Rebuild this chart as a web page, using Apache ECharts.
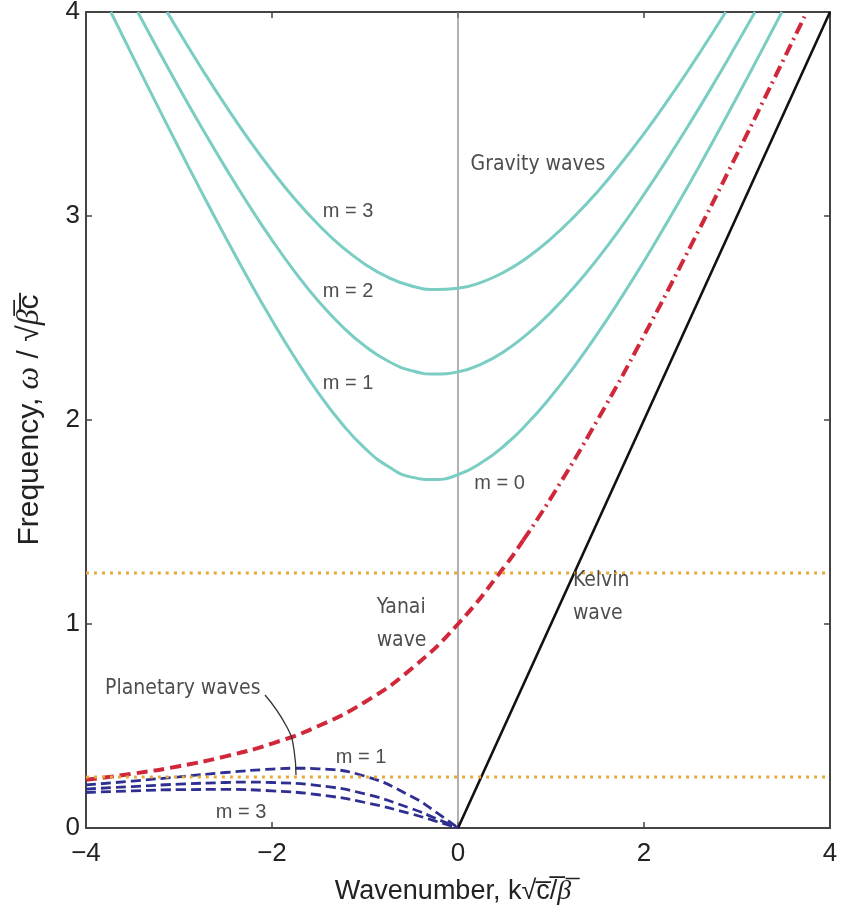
<!DOCTYPE html>
<html>
<head>
    <meta charset="utf-8">
    <title>Equatorial waves</title>
    <script src="https://cdn.jsdelivr.net/npm/echarts@6/dist/echarts.min.js"></script>
</head>
<body style="margin:0;background:#fff">
<div id="main" style="width: 845px;height:907px;"></div>
<script type="text/javascript">
    // wavenumber / frequency pairs
    var gravityM1 = [[-3.733, 4], [-3.5, 3.785], [-3.25, 3.557], [-3, 3.332], [-2.75, 3.111], [-2.5, 2.896],
        [-2.25, 2.688], [-2, 2.489], [-1.75, 2.303], [-1.5, 2.132], [-1.25, 1.983], [-1, 1.861], [-0.75, 1.772],
        [-0.5, 1.720], [-0.25, 1.708], [0, 1.732], [0.25, 1.790], [0.5, 1.875], [0.75, 1.985], [1, 2.115],
        [1.25, 2.262], [1.5, 2.423], [1.75, 2.596], [2, 2.778], [2.25, 2.970], [2.5, 3.168], [2.75, 3.373],
        [3, 3.583], [3.25, 3.797], [3.483, 4]];
    var gravityM2 = [[-3.444, 4], [-3.25, 3.836], [-3, 3.629], [-2.75, 3.429], [-2.5, 3.237], [-2.25, 3.054],
        [-2, 2.882], [-1.75, 2.724], [-1.5, 2.582], [-1.25, 2.461], [-1, 2.362], [-0.75, 2.288], [-0.5, 2.242],
        [-0.25, 2.225], [0, 2.236], [0.25, 2.274], [0.5, 2.337], [0.75, 2.423], [1, 2.529], [1.25, 2.652],
        [1.5, 2.790], [1.75, 2.942], [2, 3.106], [2.25, 3.279], [2.5, 3.460], [2.75, 3.649], [3, 3.845], [3.194, 4]];
    var gravityM3 = [[-3.128, 4], [-3, 3.903], [-2.75, 3.718], [-2.5, 3.542], [-2.25, 3.376], [-2, 3.222],
        [-1.75, 3.081], [-1.5, 2.957], [-1.25, 2.850], [-1, 2.764], [-0.75, 2.699], [-0.5, 2.657], [-0.25, 2.640],
        [0, 2.646], [0.25, 2.675], [0.5, 2.726], [0.75, 2.798], [1, 2.889], [1.25, 2.997], [1.5, 3.119],
        [1.75, 3.256], [2, 3.404], [2.25, 3.563], [2.5, 3.731], [2.75, 3.907], [2.878, 4]];
    var yanaiDashed = [[-4, 0.236], [-3.5, 0.266], [-3, 0.303], [-2.5, 0.351], [-2, 0.414], [-1.5, 0.5], [-1, 0.618],
        [-0.5, 0.781], [0, 1], [0.5, 1.281], [0.7, 1.41]];
    var yanaiDashDot = [[0.7, 1.41], [1, 1.618], [1.5, 2.0], [2, 2.414], [2.5, 2.851], [3, 3.303], [3.5, 3.766], [3.75, 4]];
    var kelvin = [[0, 0], [4, 4]];
    var rossbyM1 = [[-4, 0.211], [-3.5, 0.230], [-3, 0.251], [-2.5, 0.272], [-2, 0.289], [-1.75, 0.293], [-1.5, 0.290],
        [-1, 0.254], [-0.5, 0.155], [-0.25, 0.082], [0, 0]];
    var rossbyM2 = [[-4, 0.191], [-3.5, 0.203], [-3, 0.215], [-2.5, 0.223], [-2.25, 0.225], [-2, 0.223], [-1.5, 0.208],
        [-1, 0.167], [-0.5, 0.095], [-0.25, 0.049], [0, 0]];
    var rossbyM3 = [[-4, 0.174], [-3.5, 0.182], [-3, 0.188], [-2.5, 0.189], [-2, 0.182], [-1.5, 0.163], [-1, 0.125],
        [-0.5, 0.069], [-0.25, 0.035], [0, 0]];
    var refLevels = [1.25, 0.25];
    var leader = [[-2.075, 0.652], [-1.84, 0.495], [-1.763, 0.382], [-1.742, 0.26]];

    var annoText = ['Gravity waves', 'm = 3', 'm = 2', 'm = 1', 'm = 0', 'Kelvin\nwave', 'Yanai\nwave',
        'Planetary waves', 'm = 1', 'm = 3'];
    var annoK = [0.13, -1.46, -1.46, -1.46, 0.17, 1.23, -0.88, -3.8, -1.32, -2.61];
    var annoW = [3.25, 3.02, 2.63, 2.18, 1.69, 1.13, 1.0, 0.686, 0.348, 0.078];
    var annoNarrow = [true, false, false, false, false, true, true, true, false, false];

    var xTicks = [-4, -2, 0, 2, 4];
    var yTicks = [0, 1, 2, 3, 4];

    var narrow = "'DejaVu Sans Condensed', 'Liberation Sans Narrow', sans-serif";
    var sans = "'Liberation Sans', Arial, sans-serif";

    var myChart = echarts.init(document.getElementById('main'));

    function axisBase(show) {
        return {
            axisLine: {onZero: false, lineStyle: {color: '#444', width: 2}},
            axisTick: {inside: true, length: 6, lineStyle: {color: '#444', width: 1.5}},
            splitLine: {show: false},
            axisLabel: {
                show: show, fontSize: 26, color: '#222', fontFamily: sans,
                formatter: function (v) { return v < 0 ? '\u2212' + (-v) : '' + v; }
            }
        };
    }

    var xBottom = Object.assign(axisBase(true), {
        type: 'value', min: xTicks[0], max: xTicks[xTicks.length - 1], interval: 2, position: 'bottom',
        name: '{n|Wavenumber, k\u221A}{n|c\u0305/\u0305}{i|\u03B2\u0305}',
        nameLocation: 'middle', nameGap: 50,
        nameTextStyle: {
            padding: [0, 10, 0, 0],
            rich: {
                n: {fontSize: 27, fontFamily: sans, color: '#222'},
                i: {fontSize: 28, fontFamily: 'serif', fontStyle: 'italic', color: '#222'}
            }
        }
    });
    xBottom.axisLabel.margin = 13;
    var xTop = Object.assign(axisBase(false), {
        type: 'value', min: xTicks[0], max: xTicks[xTicks.length - 1], interval: 2, position: 'top'
    });
    var yLeft = Object.assign(axisBase(true), {
        type: 'value', min: yTicks[0], max: yTicks[yTicks.length - 1], interval: 1, position: 'left',
        name: '{n|Frequency, }{i|\u03C9}{n| / \u221A}{i|\u03B2\u0305}{n|c\u0305}',
        nameLocation: 'middle', nameGap: 40,
        nameTextStyle: {
            rich: {
                n: {fontSize: 30, fontFamily: sans, color: '#222'},
                i: {fontSize: 32, fontFamily: 'serif', fontStyle: 'italic', color: '#222'}
            }
        }
    });
    yLeft.axisLabel.margin = 6;
    var yRight = Object.assign(axisBase(false), {
        type: 'value', min: yTicks[0], max: yTicks[yTicks.length - 1], interval: 1, position: 'right'
    });

    function line(data, color, width, type, z) {
        return {
            type: 'line', data: data, smooth: true, symbol: 'none', silent: true, z: z || 2,
            lineStyle: {color: color, width: width, type: type}
        };
    }

    var teal = '#79cdc3';
    var navy = '#2f2f92';
    var red = '#d0283a';
    var series = [
        line([[0, 0], [0, 4]], '#888', 1.3, 'solid', 1),
        line(gravityM1, teal, 3, 'solid'),
        line(gravityM2, teal, 3, 'solid'),
        line(gravityM3, teal, 3, 'solid'),
        line(kelvin, '#111', 2.6, 'solid'),
        line(rossbyM1, navy, 2.8, [10, 5]),
        line(rossbyM2, navy, 2.8, [10, 5]),
        line(rossbyM3, navy, 2.8, [10, 5]),
        line(yanaiDashed, red, 4, [11, 6], 3),
        line(yanaiDashDot, red, 4, [12, 5, 2, 5], 3),
        line(leader, '#333', 1.3, 'solid', 4)
    ];
    refLevels.forEach(function (lv) {
        series.push(line([[xTicks[0], lv], [xTicks[xTicks.length - 1], lv]], '#e3aa3c', 3, [3, 5], 5));
    });

    series.push({
        type: 'scatter', silent: true, symbolSize: 1, z: 6,
        itemStyle: {color: 'rgba(0,0,0,0)'},
        data: annoText.map(function (t, i) {
            return {
                value: [annoK[i], annoW[i]],
                label: {
                    show: true, position: 'right', distance: 0, formatter: t,
                    fontSize: annoNarrow[i] ? 21 : 20,
                    lineHeight: 33,
                    fontFamily: annoNarrow[i] ? narrow : sans,
                    color: '#222'
                }
            };
        })
    });

    option = {
        animation: false,
        grid: {left: 86, right: 15, top: 12, bottom: 79, outerBoundsMode: 'none'},
        xAxis: [xBottom, xTop],
        yAxis: [yLeft, yRight],
        series: series
    };

    myChart.setOption(option);
</script>
</body>
</html>
